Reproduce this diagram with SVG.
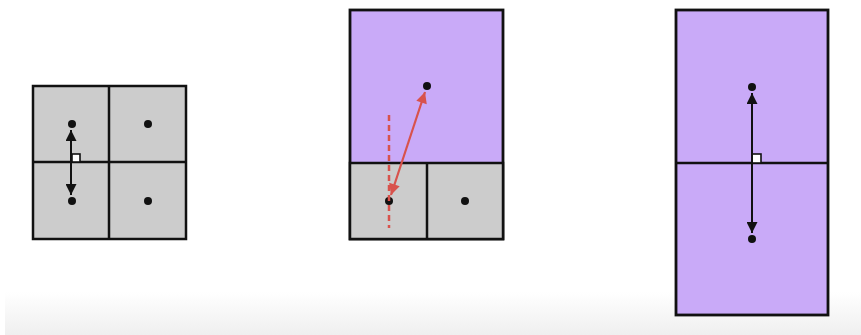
<svg xmlns="http://www.w3.org/2000/svg" width="861" height="335" viewBox="0 0 861 335">
<defs>
<linearGradient id="bg" x1="0" y1="0" x2="0" y2="1">
<stop offset="0" stop-color="#ffffff"/>
<stop offset="1" stop-color="#efefef"/>
</linearGradient>
<marker id="ah" viewBox="0 0 10 10" refX="10" refY="5" markerWidth="12" markerHeight="11" markerUnits="userSpaceOnUse" orient="auto-start-reverse">
<path d="M0,0 L10,5 L0,10 z" fill="#111"/>
</marker>
<marker id="ahr" viewBox="0 0 10 10" refX="10" refY="5" markerWidth="12" markerHeight="11" markerUnits="userSpaceOnUse" orient="auto-start-reverse">
<path d="M0,0 L10,5 L0,10 z" fill="#d8524c"/>
</marker>
</defs>
<style>
.g{fill:#cccccc;stroke:#111;stroke-width:2.5}
.p{fill:#c9aaf8;stroke:#111;stroke-width:2.8}
.l{stroke:#111;stroke-width:2.5;fill:none}
.d{fill:#111}
.a{stroke:#111;stroke-width:2;fill:none;marker-start:url(#ah);marker-end:url(#ah)}
.sq{fill:#fff;stroke:#111;stroke-width:1.6}
</style>
<rect x="0" y="0" width="861" height="335" fill="#fff"/>
<rect x="5" y="292" width="856" height="43" fill="url(#bg)"/>
<g id="left">
<rect class="g" x="33" y="86" width="153" height="153"/>
<line class="l" x1="109" y1="86" x2="109" y2="239"/>
<line class="l" x1="33" y1="162" x2="186" y2="162"/>
<rect class="sq" x="72" y="154" width="8" height="8"/>
<circle class="d" cx="72" cy="124" r="4"/>
<circle class="d" cx="148" cy="124" r="4"/>
<circle class="d" cx="72" cy="201" r="4"/>
<circle class="d" cx="148" cy="201" r="4"/>
</g>
<g id="middle">
<rect class="p" x="350" y="10" width="153" height="229"/>
<rect class="g" x="350" y="163" width="153" height="76"/>
<line class="l" x1="427" y1="163" x2="427" y2="239"/>
<circle class="d" cx="427" cy="86" r="4"/>
<circle class="d" cx="389" cy="201" r="4"/>
<circle class="d" cx="465" cy="201" r="4"/>
</g>
<g id="right">
<rect class="p" x="676" y="10" width="152" height="305"/>
<line class="l" x1="676" y1="163" x2="828" y2="163"/>
<rect class="sq" x="752" y="154" width="9" height="9"/>
<circle class="d" cx="752" cy="87" r="4"/>
<circle class="d" cx="752" cy="239" r="4"/>
</g>
<g id="connectors">
<line class="a" x1="71" y1="130" x2="71" y2="195"/>
<line x1="389" y1="115" x2="389" y2="228" stroke="#d8524c" stroke-width="2.5" stroke-dasharray="6,4"/>
<line x1="391" y1="195" x2="425" y2="92" stroke="#d8524c" stroke-width="2.2" marker-start="url(#ahr)" marker-end="url(#ahr)"/>
<line class="a" x1="752" y1="93" x2="752" y2="233"/>
</g>
</svg>
